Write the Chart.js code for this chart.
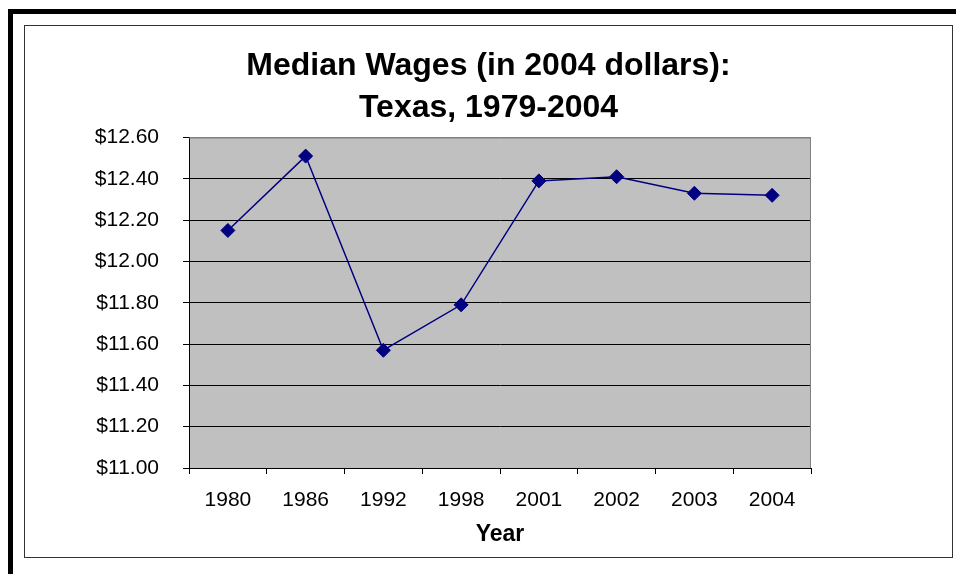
<!DOCTYPE html>
<html lang="en">
<head>
    <meta charset="UTF-8">
    <title>Median Wages: Texas, 1979-2004</title>
    <style>
        body {
            margin: 0;
            background-color: #fff;
            width: 956px;
            height: 574px;
            overflow: hidden;
            position: relative;
            font-family: "Liberation Sans", Arial, sans-serif;
        }

        #outer-frame {
            position: absolute;
            left: 8px;
            top: 9px;
            width: 1200px;
            height: 1200px;
            border-top: 5px solid #000;
            border-left: 5px solid #000;
        }

        #chart-box {
            position: absolute;
            left: 24px;
            top: 25px;
            width: 929px;
            height: 533px;
            box-sizing: border-box;
            border: 1px solid #333;
            background-color: #fff;
        }

        #chart-box canvas {
            display: block;
        }
    </style>
</head>
<body>
    <div id="outer-frame"></div>
    <div id="chart-box">
        <canvas id="wage-chart" width="927" height="531"></canvas>
    </div>

    <script src="https://cdn.jsdelivr.net/npm/chart.js"></script>

    <script>
        const years = ["1980", "1986", "1992", "1998", "2001", "2002", "2003", "2004"];
        const medianWages = [12.15, 12.51, 11.57, 11.79, 12.39, 12.41, 12.33, 12.32];
        const titleLines = ["Median Wages (in 2004 dollars):", "Texas, 1979-2004"];
        const yMin = 11.00;
        const yMax = 12.60;
        const yStep = 0.20;

        const fontName = "'Liberation Sans', Arial, sans-serif";

        // grey plot area like the old spreadsheet chart
        const plotBackground = {
            id: 'plotBackground',
            beforeDraw(chart) {
                const { ctx, chartArea: a } = chart;
                ctx.save();
                ctx.fillStyle = '#c0c0c0';
                ctx.fillRect(a.left, a.top, a.right - a.left, a.bottom - a.top);
                ctx.restore();
            },
            beforeDatasetsDraw(chart) {
                const { ctx, chartArea: a } = chart;
                ctx.save();
                ctx.strokeStyle = '#808080';
                ctx.lineWidth = 1;
                ctx.beginPath();
                ctx.moveTo(a.left, a.top + 0.5);
                ctx.lineTo(a.right - 0.5, a.top + 0.5);
                ctx.lineTo(a.right - 0.5, a.bottom);
                ctx.stroke();
                ctx.restore();
            }
        };

        const ctx = document.getElementById('wage-chart').getContext('2d');
        new Chart(ctx, {
            type: 'line',
            data: {
                labels: years,
                datasets: [{
                    data: medianWages,
                    borderColor: '#000080',
                    backgroundColor: '#000080',
                    borderWidth: 1.5,
                    pointStyle: 'rectRot',
                    pointRadius: 7,
                    pointBorderWidth: 1,
                    pointBorderColor: '#000080',
                    pointBackgroundColor: '#000080',
                    tension: 0,
                    fill: false
                }]
            },
            options: {
                responsive: false,
                animation: false,
                layout: {
                    padding: { left: 0, right: 0, top: 0, bottom: 8.2 }
                },
                plugins: {
                    legend: { display: false },
                    tooltip: { enabled: false },
                    title: {
                        display: true,
                        text: titleLines,
                        color: '#000',
                        font: { family: fontName, size: 32, weight: 'bold', lineHeight: 1.3125 },
                        padding: { top: 19.5, bottom: 8 }
                    }
                },
                scales: {
                    x: {
                        type: 'category',
                        offset: true,
                        grid: {
                            display: true,
                            offset: true,
                            drawOnChartArea: false,
                            drawTicks: true,
                            tickLength: 6,
                            tickColor: '#000',
                            color: '#000'
                        },
                        border: { display: true, color: '#000', width: 1 },
                        ticks: {
                            color: '#000',
                            padding: 13.4,
                            maxRotation: 0,
                            font: { family: fontName, size: 21 }
                        },
                        title: {
                            display: true,
                            text: 'Year',
                            color: '#000',
                            font: { family: fontName, size: 23, weight: 'bold' },
                            padding: { top: 0, bottom: 0 }
                        },
                        afterFit(axis) { axis.height = 80.8; }
                    },
                    y: {
                        position: 'left',
                        min: yMin,
                        max: yMax,
                        grid: {
                            color: (c) => c.index === 8 ? '#808080' : '#000',
                            tickColor: '#000',
                            lineWidth: 1,
                            drawTicks: true,
                            tickLength: 6
                        },
                        border: { display: true, color: '#000', width: 1 },
                        ticks: {
                            stepSize: yStep,
                            padding: 24,
                            color: '#000',
                            font: { family: fontName, size: 21 },
                            callback: (v) => '$' + Number(v).toFixed(2)
                        },
                        afterFit(axis) { axis.width = 164; }
                    },
                    // empty right-hand space so the title stays centred on the frame
                    spacer: {
                        axis: 'y',
                        position: 'right',
                        grid: { display: false },
                        border: { display: false },
                        ticks: { display: false },
                        afterFit(axis) { axis.width = 141; }
                    }
                }
            },
            plugins: [plotBackground]
        });
    </script>
</body>
</html>
